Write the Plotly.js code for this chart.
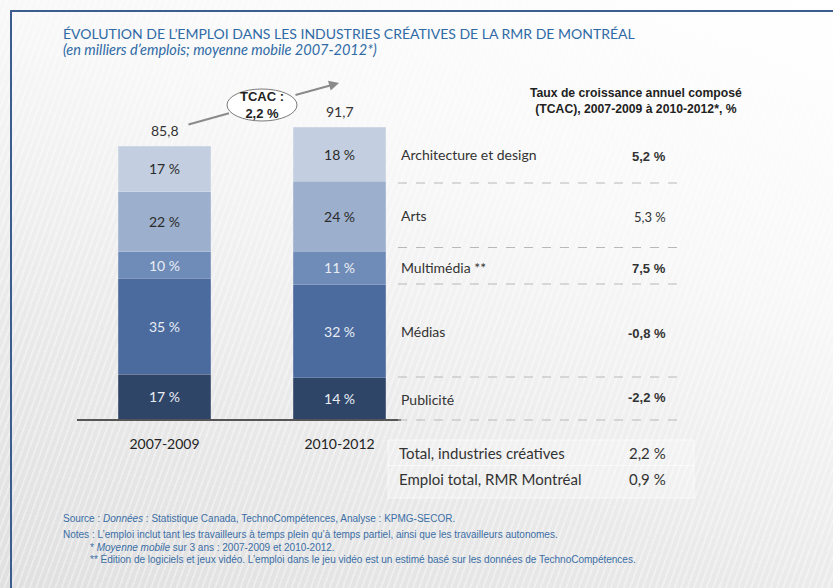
<!DOCTYPE html>
<html>
<head>
<meta charset="utf-8">
<script src="https://cdn.plot.ly/plotly-3.0.1.min.js"></script>
<style>
html,body{margin:0;padding:0;}
body{width:833px;height:588px;overflow:hidden;position:relative;
 background:
  repeating-linear-gradient(110deg, rgba(255,255,255,0.35) 0px, rgba(255,255,255,0.35) 2px, rgba(255,255,255,0) 2px, rgba(255,255,255,0) 6px),
  linear-gradient(200deg, #ffffff 0%, #f8f8f8 35%, #e9e9e9 70%, #e0e0e0 100%);}
#frame{position:absolute;left:10px;top:10px;width:900px;height:700px;border-left:2px solid #3d5d8f;border-top:2px solid #3d5d8f;pointer-events:none;}
#chart{position:absolute;left:0;top:0;width:833px;height:588px;}
</style>
</head>
<body>
<div id="chart"></div>
<div id="frame"></div>
<script>
// ---- data ----
const periods = ['2007-2009', '2010-2012'];
const totals = [85.8, 91.7];
const totalLabels = ['85,8', '91,7'];
const segments = ['Publicité', 'Médias', 'Multimédia **', 'Arts', 'Architecture et design'];
const publicite = [14.0, 12.9];
const medias = [30.2, 29.3];
const multimedia = [8.4, 10.6];
const arts = [18.9, 22.0];
const architecture = [14.3, 16.9];
const pubShare = ['17 %', '14 %'];
const mediasShare = ['35 %', '32 %'];
const multiShare = ['10 %', '11 %'];
const artsShare = ['22 %', '24 %'];
const archiShare = ['17 %', '18 %'];
const tcacLabels = ['Architecture et design', 'Arts', 'Multimédia **', 'Médias', 'Publicité'];
const tcacValues = ['5,2 %', '5,3 %', '7,5 %', '-0,8 %', '-2,2 %'];
const tcacBold = [true, false, true, true, true];
const totalRows = ['Total, industries créatives', 'Emploi total, RMR Montréal'];
const totalRowValues = ['2,2 %', '0,9 %'];
const tcacOverall = '2,2 %';

// ---- layout helpers (pixel -> paper) ----
const W = 833, H = 588, ML = 77, MR = 432, MT = 101, MB = 169;
const PW = W - ML - MR, PH = H - MT - MB;
const px = x => (x - ML) / PW;
const py = y => (H - MB - y) / PH;

const FONT = 'Lato, "Noto Sans", sans-serif';
const NARROW = '"Liberation Sans Narrow", "Arial Narrow", "Liberation Sans", sans-serif';
const BLUE = '#2f6aa6';

const colors = ['#2f4568', '#4b6a9d', '#6f8bb7', '#9cafcc', '#c3cfe0'];
const textColors = ['#e8edf5', '#e8edf5', '#e8edf5', '#2b2b2b', '#2b2b2b'];
const series = [publicite, medias, multimedia, arts, architecture];
const shares = [pubShare, mediasShare, multiShare, artsShare, archiShare];

const traces = series.map((vals, i) => ({
  type: 'bar', name: segments[i], x: periods, y: vals,
  text: shares[i], textposition: 'inside', insidetextanchor: 'middle',
  textangle: 0, constraintext: 'none',
  textfont: {family: FONT, size: 14, color: textColors[i]},
  marker: {color: colors[i], line: {color: 'rgba(255,255,255,0.3)', width: 0.6}},
  width: 0.53, hoverinfo: 'skip', showlegend: false
}));

function T(x, y, text, font, xa, ya, extra) {
  return Object.assign({xref: 'paper', yref: 'paper', x: px(x), y: py(y), text: text, showarrow: false,
    xanchor: xa || 'left', yanchor: ya || 'middle', font: font}, extra || {});
}

const ann = [];
// totals above bars
periods.forEach((p, i) => ann.push({x: p, y: totals[i], xref: 'x', yref: 'y', text: totalLabels[i],
  showarrow: false, xanchor: 'center', yanchor: 'bottom', yshift: 5, font: {family: FONT, size: 14, color: '#333'}}));
// title
ann.push(T(61, 34, 'ÉVOLUTION DE L’EMPLOI DANS LES INDUSTRIES CRÉATIVES DE LA RMR DE MONTRÉAL',
  {family: FONT, size: 14, color: BLUE}));
ann.push(T(61, 50, '<i>(en milliers d’emplois; moyenne mobile 2007-2012*)</i>', {family: FONT, size: 14.5, color: BLUE}));
// TCAC arrow (two segments around the ellipse)
ann.push({xref: 'paper', yref: 'paper', x: px(229), y: py(113.3), ax: px(187), ay: py(125), axref: 'paper', ayref: 'paper',
  showarrow: true, arrowhead: 0, arrowwidth: 2, arrowcolor: '#8a8a8a', text: ''});
ann.push({xref: 'paper', yref: 'paper', x: px(339), y: py(83), ax: px(294), ay: py(95.5), axref: 'paper', ayref: 'paper',
  showarrow: true, arrowhead: 2, arrowsize: 1, arrowwidth: 2, arrowcolor: '#8a8a8a', text: ''});
ann.push(T(262, 105, '<b>TCAC :<br>' + tcacOverall + '</b>', {family: NARROW, size: 13, color: '#222'}, 'center', 'middle'));
// right header
ann.push(T(636, 101, '<b>Taux de croissance annuel composé<br>(TCAC), 2007-2009 à 2010-2012*, %</b>',
  {family: NARROW, size: 12.2, color: '#222'}, 'center', 'middle', {align: 'center'}));
// right category rows
const rowY = [154, 215, 267, 331, 399];
const valY = [156, 217, 268, 333, 397];
tcacLabels.forEach((t, i) => {
  ann.push(T(399, rowY[i], t, {family: FONT, size: 14, color: '#333'}));
  ann.push(T(668, valY[i], tcacBold[i] ? '<b>' + tcacValues[i] + '</b>' : tcacValues[i],
    {family: tcacBold[i] ? NARROW : FONT, size: 13, color: '#333'}, 'right'));
});
// totals box rows
[453, 479].forEach((y, i) => {
  ann.push(T(397, y, totalRows[i], {family: FONT, size: 15, color: '#333'}));
  ann.push(T(668, y, totalRowValues[i], {family: FONT, size: 15, color: '#333'}, 'right'));
});
// footer
const foot = [
  [61, 518, 'Source : <i>Données</i> : Statistique Canada, TechnoCompétences, Analyse : KPMG-SECOR.'],
  [61, 534, 'Notes : L’emploi inclut tant les travailleurs à temps plein qu’à temps partiel, ainsi que les travailleurs autonomes.'],
  [88, 547, '* <i>Moyenne mobile</i> sur 3 ans : 2007-2009 et 2010-2012.'],
  [88, 559, '** Édition de logiciels et jeux vidéo. L’emploi dans le jeu vidéo est un estimé basé sur les données de TechnoCompétences.']
];
foot.forEach(f => ann.push(T(f[0], f[1], f[2], {family: NARROW, size: 10, color: '#3a6ea5'})));

const shapes = [];
[183, 247.5, 284, 377, 420].forEach(y => shapes.push({type: 'line', xref: 'paper', yref: 'paper',
  x0: px(398), x1: px(684), y0: py(y), y1: py(y), line: {color: '#b8b8b8', width: 1, dash: 'dash'}}));
// ellipse
shapes.push({type: 'circle', xref: 'paper', yref: 'paper', x0: px(227), x1: px(297), y0: py(121), y1: py(89),
  fillcolor: '#ffffff', line: {color: '#7a7a7a', width: 1}, layer: 'above'});
// totals box
shapes.push({type: 'rect', xref: 'paper', yref: 'paper', x0: px(388), x1: px(694), y0: py(440), y1: py(498),
  fillcolor: 'rgba(255,255,255,0.25)', line: {color: 'rgba(255,255,255,0.6)', width: 1}, layer: 'below'});
shapes.push({type: 'line', xref: 'paper', yref: 'paper', x0: px(388), x1: px(694), y0: py(465.5), y1: py(465.5),
  line: {color: 'rgba(255,255,255,0.6)', width: 1}, layer: 'below'});

const layout = {
  width: W, height: H,
  margin: {l: ML, r: MR, t: MT, b: MB, pad: 0},
  paper_bgcolor: 'rgba(0,0,0,0)', plot_bgcolor: 'rgba(0,0,0,0)',
  barmode: 'stack', showlegend: false,
  xaxis: {range: [-0.5, 1.351], showline: true, linecolor: '#555', linewidth: 1.5, showgrid: false, zeroline: false,
    ticks: '', ticklabelstandoff: 12, tickfont: {family: FONT, size: 14, color: '#222'}, fixedrange: true},
  yaxis: {range: [0, 100], visible: false, fixedrange: true},
  annotations: ann, shapes: shapes
};
Plotly.newPlot('chart', traces, layout, {displayModeBar: false, staticPlot: true});
</script>
</body>
</html>
